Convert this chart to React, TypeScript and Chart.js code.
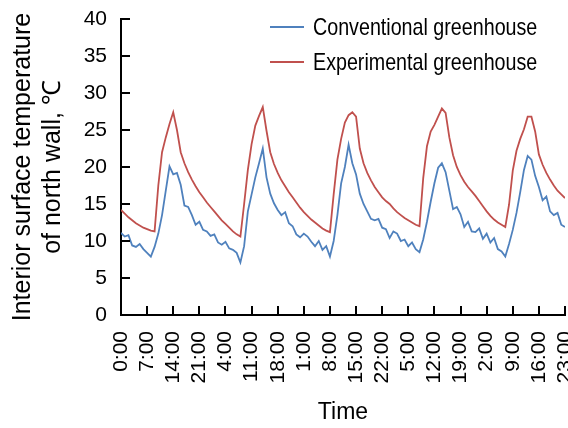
import { useEffect, useRef } from "react";
import { Chart, registerables } from "chart.js";

Chart.register(...registerables);

// Hour index (0..119) of each labelled x tick
const TICK_HOURS = [0, 7, 14, 21, 28, 35, 42, 49, 56, 63, 70, 77, 84, 91, 98, 105, 112, 119];
const TICK_LABELS = [
  "0:00", "7:00", "14:00", "21:00", "4:00", "11:00", "18:00", "1:00", "8:00",
  "15:00", "22:00", "5:00", "12:00", "19:00", "2:00", "9:00", "16:00", "23:00",
];
const Y_TICKS = [0, 5, 10, 15, 20, 25, 30, 35, 40];
const SERIES_NAMES = ["Conventional greenhouse", "Experimental greenhouse"];
const SERIES_COLORS = ["#4F81BD", "#C0504D"];

// Hourly readings, 5 days (0:00 .. 23:00 each day)
const CONVENTIONAL = [
  11.1, 10.6, 10.8, 9.4, 9.2, 9.6, 8.9, 8.4, 7.9, 9.2, 11.0, 13.5, 16.8, 20.1, 19.0, 19.2, 17.6, 14.8, 14.6, 13.5, 12.2, 12.6, 11.5, 11.3,
  10.7, 10.9, 9.8, 9.5, 9.9, 9.0, 8.8, 8.4, 7.1, 9.3, 14.0, 16.3, 18.6, 20.5, 22.5, 18.6, 16.4, 15.1, 14.2, 13.5, 13.9, 12.4, 12.0, 10.9,
  10.5, 11.0, 10.6, 9.9, 9.3, 10.0, 8.8, 9.3, 7.9, 10.0, 13.5, 17.8, 20.0, 23.0, 20.5, 19.0, 16.4, 15.0, 14.0, 13.0, 12.8, 13.0, 11.8, 11.6,
  10.4, 11.3, 11.0, 10.0, 10.2, 9.3, 9.8, 8.9, 8.5, 10.2, 12.6, 15.3, 17.8, 19.9, 20.5, 19.3, 16.8, 14.3, 14.6, 13.6, 11.9, 12.6, 11.3, 11.2,
  11.7, 10.3, 11.0, 9.8, 10.4, 8.9, 8.6, 7.9, 9.6, 11.5, 13.8, 16.6, 19.6, 21.5, 21.0, 18.8, 17.3, 15.5, 16.0, 14.0, 13.5, 13.8, 12.2, 11.9,
];
const EXPERIMENTAL = [
  14.2, 13.7, 13.2, 12.8, 12.4, 12.1, 11.8, 11.6, 11.4, 11.3, 17.5, 22.0, 24.0, 25.8, 27.4, 25.0, 22.0, 20.5, 19.3, 18.3, 17.4, 16.6, 15.9, 15.2,
  14.6, 14.0, 13.4, 12.8, 12.3, 11.8, 11.3, 10.9, 10.6, 15.0, 19.6, 23.1, 25.6, 26.9, 28.1, 24.9, 22.0, 20.4, 19.2, 18.2, 17.4, 16.6, 15.9, 15.2,
  14.5, 13.9, 13.4, 12.9, 12.5, 12.1, 11.7, 11.4, 11.2, 16.3, 21.0, 23.8, 26.0, 27.0, 27.4, 26.8, 22.5, 20.5, 19.2, 18.2, 17.3, 16.6, 15.9, 15.4,
  15.0, 14.4, 13.9, 13.5, 13.1, 12.8, 12.5, 12.2, 12.0, 18.5, 22.8, 24.8, 25.7, 26.8, 27.9, 27.3, 24.0, 21.6, 20.0, 18.9, 18.0, 17.3, 16.7, 16.1,
  15.4, 14.7, 14.0, 13.4, 12.9, 12.5, 12.2, 11.9, 14.9, 19.5, 22.2, 23.8, 25.1, 26.8, 26.8, 24.8, 21.7, 20.3, 19.2, 18.3, 17.5, 16.8, 16.3, 15.8,
];

const REGULAR = '"Liberation Sans", Arial, sans-serif';

const innerTicks = {
  id: "innerTicks",
  afterDatasetsDraw(chart: any) {
    const { ctx, chartArea, scales } = chart;
    ctx.save();
    ctx.strokeStyle = "#000";
    ctx.lineWidth = 2;
    scales.x.ticks.forEach((t: any) => {
      const x = Math.round(scales.x.getPixelForValue(t.value));
      ctx.beginPath();
      ctx.moveTo(x, chartArea.bottom);
      ctx.lineTo(x, chartArea.bottom - 9);
      ctx.stroke();
    });
    scales.y.ticks.forEach((t: any) => {
      const y = Math.round(scales.y.getPixelForValue(t.value));
      ctx.beginPath();
      ctx.moveTo(chartArea.left, y);
      ctx.lineTo(chartArea.left + 9, y);
      ctx.stroke();
    });
    ctx.restore();
  },
};

const customLegend = {
  id: "customLegend",
  afterDraw(chart: any) {
    const { ctx, chartArea } = chart;
    chart.data.datasets.forEach((ds: any, i: number) => {
      const y = chartArea.top + 8 + i * 35;
      const x0 = chartArea.right - 295;
      ctx.save();
      ctx.strokeStyle = ds.borderColor;
      ctx.lineWidth = 2;
      ctx.beginPath();
      ctx.moveTo(x0, y);
      ctx.lineTo(x0 + 34, y);
      ctx.stroke();
      ctx.fillStyle = "#000";
      ctx.font = `24px ${REGULAR}`;
      ctx.textAlign = "left";
      ctx.textBaseline = "middle";
      ctx.translate(x0 + 43, y + 1);
      ctx.scale(0.82, 1);
      ctx.fillText(ds.label, 0, 0);
      ctx.restore();
    });
  },
};

export default function App() {
  const ref = useRef<HTMLCanvasElement>(null);

  useEffect(() => {
    if (!ref.current) return;
    const chart = new Chart(ref.current, {
      type: "line",
      data: {
        datasets: [
          {
            label: SERIES_NAMES[0],
            data: CONVENTIONAL.map((y, i) => ({ x: i, y })),
            borderColor: SERIES_COLORS[0],
            backgroundColor: SERIES_COLORS[0],
            borderWidth: 1.8,
            pointRadius: 0,
            tension: 0,
          },
          {
            label: SERIES_NAMES[1],
            data: EXPERIMENTAL.map((y, i) => ({ x: i, y })),
            borderColor: SERIES_COLORS[1],
            backgroundColor: SERIES_COLORS[1],
            borderWidth: 1.8,
            pointRadius: 0,
            tension: 0,
          },
        ],
      },
      options: {
        responsive: false,
        animation: false,
        layout: { padding: { top: 19, right: 3, bottom: 0, left: 0 } },
        plugins: {
          legend: { display: false },
          tooltip: { enabled: false },
        },
        scales: {
          x: {
            type: "linear",
            min: 0,
            max: 119,
            afterBuildTicks: (s: any) => {
              s.ticks = TICK_HOURS.map((v) => ({ value: v }));
            },
            afterFit: (s: any) => {
              s.height = 113;
              s.paddingLeft = 0;
              s.paddingRight = 0;
            },
            grid: { display: false, drawTicks: false },
            border: { display: true, color: "#000", width: 2 },
            ticks: {
              autoSkip: false,
              minRotation: 90,
              maxRotation: 90,
              padding: 16,
              color: "#000",
              font: { family: REGULAR, size: 21 },
              callback: (_v: any, i: number) => TICK_LABELS[i],
            },
            title: {
              display: true,
              text: "Time",
              color: "#000",
              font: { family: REGULAR, size: 23, lineHeight: 1.2 },
              padding: { top: 0, bottom: 2 },
            },
          },
          y: {
            min: 0,
            max: 40,
            afterBuildTicks: (s: any) => {
              s.ticks = Y_TICKS.map((v) => ({ value: v }));
            },
            afterFit: (s: any) => {
              s.width = 121;
              s.paddingTop = 0;
              s.paddingBottom = 0;
            },
            grid: { display: false, drawTicks: false },
            border: { display: true, color: "#000", width: 2 },
            ticks: {
              padding: 14,
              color: "#000",
              font: { family: REGULAR, size: 21 },
            },
            title: {
              display: true,
              text: ["Interior surface temperature", "of north wall, \u2103"],
              color: "#000",
              font: { family: REGULAR, size: 25, lineHeight: 1.2 },
              padding: { top: 8, bottom: 0 },
            },
          },
        },
      },
      plugins: [innerTicks, customLegend],
    } as any);
    return () => chart.destroy();
  }, []);

  return (
    <div style={{ position: "absolute", left: 0, top: 0, width: 568, height: 428 }}>
      <canvas ref={ref} width={568} height={428} style={{ display: "block", width: 568, height: 428 }} />
    </div>
  );
}
